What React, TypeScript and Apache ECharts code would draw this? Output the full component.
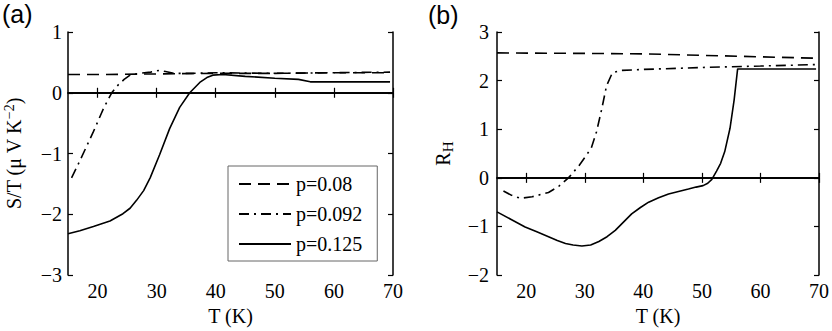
import React, { useEffect, useRef } from "react";
import * as echarts from "echarts";

// ---------- Data ----------
const xTicks = [20, 30, 40, 50, 60, 70];
const seriesNames = ["p=0.08", "p=0.092", "p=0.125"];

// Panel (a): S/T
const tA08 = [15, 20, 30, 40, 50, 60, 69.5];
const vA08 = [0.3, 0.3, 0.31, 0.32, 0.32, 0.33, 0.33];

const tA092 = [15.6, 17, 19.3, 21, 22.4, 23.5, 24.5, 25.5, 27, 29, 30.5, 31.5, 33, 36, 40, 50, 60, 69.5];
const vA092 = [-1.4, -1.12, -0.64, -0.26, 0.0, 0.13, 0.22, 0.29, 0.32, 0.34, 0.37, 0.35, 0.32, 0.32, 0.33, 0.32, 0.33, 0.34];

const tA125 = [15, 17, 19.3, 22.1, 24.3, 25.5, 26.6, 27.8, 28.9, 30.5, 32.2, 33.9, 35.6, 37.3, 38.5, 39.5, 41.2, 45, 50, 54, 56, 60, 69.5];
const vA125 = [-2.32, -2.27, -2.2, -2.11, -1.99, -1.9, -1.77, -1.61, -1.4, -1.02, -0.59, -0.24, 0.0, 0.17, 0.25, 0.29, 0.3, 0.27, 0.24, 0.22, 0.18, 0.18, 0.18];

// Panel (b): R_H
const tB08 = [15, 30, 40, 50, 60, 69.5];
const vB08 = [2.57, 2.56, 2.55, 2.52, 2.49, 2.46];

const tB092 = [16.1, 17.5, 19, 21, 23.8, 25.5, 27.2, 29, 31.1, 32, 32.9, 33.7, 34.7, 36.2, 40, 50, 60, 69.5];
const vB092 = [-0.27, -0.36, -0.42, -0.39, -0.3, -0.18, 0.0, 0.25, 0.61, 0.95, 1.42, 1.89, 2.16, 2.21, 2.23, 2.27, 2.3, 2.33];

const tB125 = [15, 17.5, 19.8, 21.8, 23.8, 25.3, 26.7, 28, 29.5, 31, 32.4, 33.8, 35.2, 36.6, 38, 39.5, 40.9, 42.6, 44.3, 46, 47.7, 49, 50.2, 51, 51.7, 52.5, 53.2, 53.9, 54.8, 55.5, 56.1, 60, 69.5];
const vB125 = [-0.7, -0.86, -1.01, -1.11, -1.21, -1.29, -1.35, -1.38, -1.4, -1.38, -1.31, -1.21, -1.08, -0.91, -0.74, -0.61, -0.5, -0.41, -0.33, -0.28, -0.23, -0.19, -0.16, -0.11, -0.03, 0.14, 0.3, 0.54, 1.02, 1.6, 2.24, 2.24, 2.24];

// ---------- Helpers ----------
const zip = (t: number[], v: number[]) => t.map((x, i) => [x, v[i]]);
const SERIF = "Liberation Serif";
const fmtNum = (v: number) => (v < 0 ? "\u2212" + Math.abs(v) : String(v));

const lineTypes: any[] = [[12, 7], [10, 5, 2, 5], "solid"];

export default function App() {
  const ref = useRef<HTMLDivElement>(null);
  useEffect(() => {
    document.body.style.margin = "0";
    if (!ref.current) return;
    const chart = echarts.init(ref.current, undefined, { renderer: "svg" });

    const axisLine = { show: true, lineStyle: { color: "#000", width: 1.5 } };
    const tickStyle = { show: true, inside: true, length: 5, lineStyle: { color: "#000", width: 1.2 } };
    const labelStyle = { fontFamily: SERIF, fontSize: 20, color: "#000" };

    const makeX = (grid: number, pos: "bottom" | "top", showLabel: boolean, name?: string) => ({
      type: "value",
      gridIndex: grid,
      position: pos,
      min: 15,
      max: 70,
      axisLine,
      axisTick: { ...tickStyle, customValues: xTicks },
      axisLabel: { show: showLabel, ...labelStyle, margin: 6, customValues: xTicks, formatter: fmtNum },
      splitLine: { show: false },
      name: name,
      nameLocation: "middle",
      nameGap: 30,
      nameTextStyle: { fontFamily: SERIF, fontSize: 20, color: "#000" },
    });

    const makeY = (grid: number, pos: "left" | "right", showLabel: boolean, min: number, max: number, margin: number, name?: string, rich?: any) => ({
      type: "value",
      gridIndex: grid,
      position: pos,
      min,
      max,
      interval: 1,
      axisLine,
      axisTick: tickStyle,
      axisLabel: { show: showLabel, ...labelStyle, margin, formatter: fmtNum },
      splitLine: { show: false },
      name: name,
      nameLocation: "middle",
      nameGap: 42,
      nameTextStyle: { fontFamily: SERIF, fontSize: 20, color: "#000", lineHeight: 24, rich },
    });

    const zeroLine = {
      silent: true,
      symbol: ["none", "none"],
      label: { show: false },
      lineStyle: { type: "solid", color: "#000", width: 1.5 },
      data: [{ yAxis: 0 }],
    };

    const mkSeries = (name: string, idx: number, data: number[][], xi: number, yi: number, withZero: boolean) => ({
      type: "line",
      name,
      data,
      xAxisIndex: xi,
      yAxisIndex: yi,
      symbol: "none",
      showSymbol: false,
      lineStyle: { color: "#000", width: 1.6, type: lineTypes[idx] },
      itemStyle: { color: "#000" },
      z: 3,
      markLine: withZero ? zeroLine : undefined,
    });

    const option: any = {
      animation: false,
      backgroundColor: "#fff",
      grid: [
        { left: 68, top: 32, width: 325, height: 247 },
        { left: 497, top: 32, width: 324, height: 247 },
      ],
      xAxis: [
        makeX(0, "bottom", true, "T (K)"),
        makeX(0, "top", false),
        makeX(1, "bottom", true, "T (K)"),
        makeX(1, "top", false),
      ],
      yAxis: [
        makeY(0, "left", true, -3, 1, 6, "S/T (\u03bc V K{sup|\u22122})", {
          sup: { fontFamily: SERIF, fontSize: 14, verticalAlign: "top", lineHeight: 14, padding: [0, 0, 10, 0] },
        }),
        makeY(0, "right", false, -3, 1, 6),
        makeY(1, "left", true, -2, 3, 8, "R{sub|H}", {
          sub: { fontFamily: SERIF, fontSize: 15, verticalAlign: "bottom", lineHeight: 15, padding: [10, 0, 0, 0] },
        }),
        makeY(1, "right", false, -2, 3, 8),
      ],
      legend: {
        data: seriesNames,
        orient: "vertical",
        left: 228,
        top: 166,
        padding: [8, 15, 7, 10],
        itemGap: 10,
        itemWidth: 52,
        itemHeight: 14,
        borderColor: "#666",
        borderWidth: 1,
        backgroundColor: "#fff",
        itemStyle: { opacity: 0 },
        textStyle: { fontFamily: SERIF, fontSize: 20, color: "#000", lineHeight: 20 },
      },
      graphic: [
        { type: "text", left: 2, top: 1, style: { text: "(a)", font: "25px 'Liberation Sans'", fill: "#000" } },
        { type: "text", left: 428, top: 2, style: { text: "(b)", font: "25px 'Liberation Sans'", fill: "#000" } },
      ],
      series: [
        mkSeries(seriesNames[0], 0, zip(tA08, vA08), 0, 0, true),
        mkSeries(seriesNames[1], 1, zip(tA092, vA092), 0, 0, false),
        mkSeries(seriesNames[2], 2, zip(tA125, vA125), 0, 0, false),
        mkSeries(seriesNames[0], 0, zip(tB08, vB08), 2, 2, true),
        mkSeries(seriesNames[1], 1, zip(tB092, vB092), 2, 2, false),
        mkSeries(seriesNames[2], 2, zip(tB125, vB125), 2, 2, false),
      ],
    };
    chart.setOption(option);
    return () => chart.dispose();
  }, []);
  return <div ref={ref} style={{ width: 832, height: 331 }} />;
}
